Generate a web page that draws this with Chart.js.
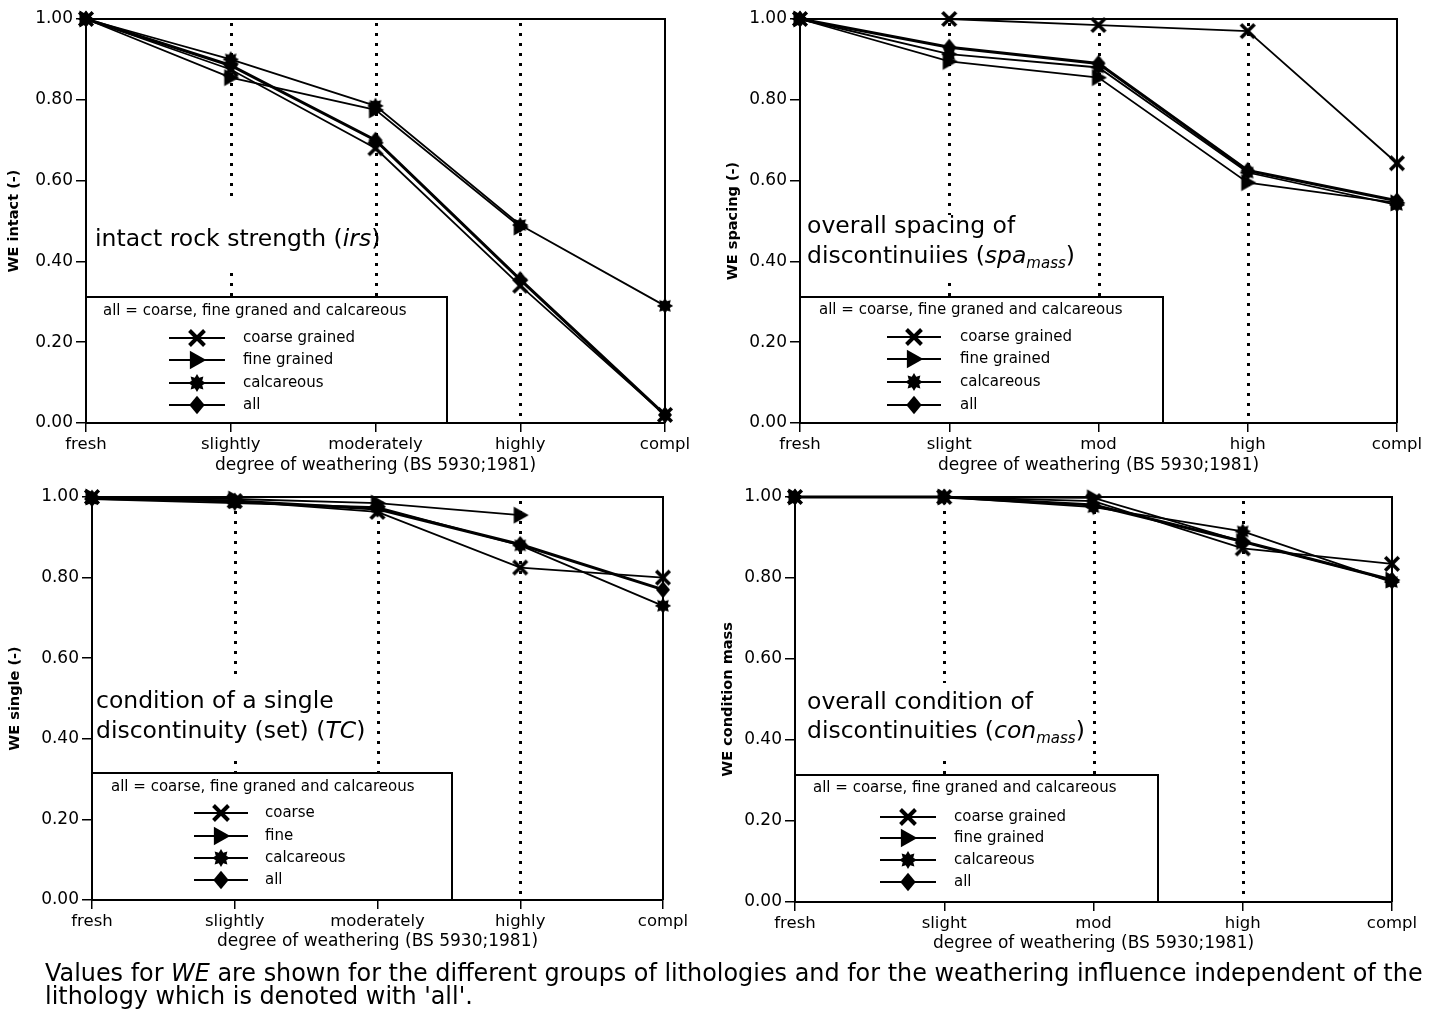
<!DOCTYPE html>
<html><head><meta charset="utf-8">
<script src="https://cdn.jsdelivr.net/npm/chart.js@4.4.1/dist/chart.umd.min.js"></script>
<style>
html,body{margin:0;padding:0;background:#fff;width:1435px;height:1018px;overflow:hidden}
canvas{position:absolute}
#cap{position:absolute;left:45px;top:962px;font-family:'DejaVu Sans';font-size:23.9px;line-height:23px;white-space:nowrap;color:#000}
</style></head><body>
<canvas id="c1" width="717" height="480" style="left:0;top:0;width:717px;height:480px"></canvas>
<canvas id="c2" width="718" height="480" style="left:717px;top:0;width:718px;height:480px"></canvas>
<canvas id="c3" width="717" height="480" style="left:0;top:480px;width:717px;height:480px"></canvas>
<canvas id="c4" width="718" height="480" style="left:717px;top:480px;width:718px;height:480px"></canvas>
<div id="cap">Values for <i>WE</i> are shown for the different groups of lithologies and for the weathering influence independent of the<br>lithology which is denoted with 'all'.</div>
<script>
// ---- data ----
const stagesLong = ['fresh', 'slightly', 'moderately', 'highly', 'compl'];
const stagesShort = ['fresh', 'slight', 'mod', 'high', 'compl'];
const yTickValues = [0, 0.2, 0.4, 0.6, 0.8, 1.0];

const irsCoarse = [1.0, 0.875, 0.68, 0.34, 0.02];
const irsFine   = [1.0, 0.855, 0.775, 0.485, null];
const irsCalc   = [1.0, 0.90, 0.785, 0.49, 0.29];
const irsAll    = [1.0, 0.885, 0.70, 0.355, 0.02];

const spaCoarse = [1.0, 1.0, 0.985, 0.97, 0.643];
const spaFine   = [1.0, 0.895, 0.855, 0.595, 0.545];
const spaCalc   = [1.0, 0.913, 0.88, 0.62, 0.54];
const spaAll    = [1.0, 0.93, 0.89, 0.625, 0.55];

const tcCoarse = [1.0, 0.99, 0.963, 0.825, 0.80];
const tcFine   = [1.0, 0.995, 0.985, 0.955, null];
const tcCalc   = [0.995, 0.985, 0.975, 0.88, 0.73];
const tcAll    = [0.997, 0.99, 0.97, 0.882, 0.77];

const conCoarse = [1.0, 1.0, 0.99, 0.873, 0.835];
const conFine   = [1.0, 1.0, 0.998, 0.89, 0.795];
const conCalc   = [1.0, 1.0, 0.975, 0.915, 0.79];
const conAll    = [1.0, 1.0, 0.98, 0.89, 0.795];

const yTitles = ['WE intact (-)', 'WE spacing (-)', 'WE single (-)', 'WE condition mass'];
const xTitle = 'degree of weathering (BS 5930;1981)';
const legendHeader = 'all = coarse, fine graned and calcareous';
const legendLabelsA = ['coarse grained', 'fine grained', 'calcareous', 'all'];
const legendLabelsB = ['coarse', 'fine', 'calcareous', 'all'];

// ---- drawing helpers ----
const FONT = "'DejaVu Sans'";
function drawMarker(ctx, type, cx, cy, s) {
  ctx.save();
  ctx.fillStyle = '#000'; ctx.strokeStyle = '#000'; ctx.setLineDash([]);
  ctx.beginPath();
  if (type === 'x') {
    const r = 6.8 * s;
    ctx.lineWidth = 3.6 * s;
    ctx.moveTo(cx - r, cy - r); ctx.lineTo(cx + r, cy + r);
    ctx.moveTo(cx + r, cy - r); ctx.lineTo(cx - r, cy + r);
    ctx.stroke();
  } else if (type === 'tri') {
    ctx.moveTo(cx - 6.5 * s, cy - 8.5 * s); ctx.lineTo(cx + 8.5 * s, cy); ctx.lineTo(cx - 6.5 * s, cy + 8.5 * s);
    ctx.closePath(); ctx.fill();
  } else if (type === 'star') {
    const n = 8, ro = 8.2 * s, ri = 5.2 * s;
    for (let i = 0; i < n * 2; i++) {
      const a = -Math.PI / 2 + i * Math.PI / n;
      const r = i % 2 ? ri : ro;
      const px = cx + r * Math.cos(a), py = cy + r * Math.sin(a);
      if (i === 0) ctx.moveTo(px, py); else ctx.lineTo(px, py);
    }
    ctx.closePath(); ctx.fill();
  } else if (type === 'dia') {
    ctx.moveTo(cx, cy - 8.5 * s); ctx.lineTo(cx + 7 * s, cy); ctx.lineTo(cx, cy + 8.5 * s); ctx.lineTo(cx - 7 * s, cy);
    ctx.closePath(); ctx.fill();
  }
  ctx.restore();
}
function markerCanvas(type) {
  const c = document.createElement('canvas');
  c.width = 24; c.height = 24;
  drawMarker(c.getContext('2d'), type, 12, 12, 1);
  return c;
}
const MK = { x: markerCanvas('x'), tri: markerCanvas('tri'), star: markerCanvas('star'), dia: markerCanvas('dia') };
const markerTypes = ['x', 'tri', 'star', 'dia'];

function drawSegments(ctx, segs, x, yc) {
  let cx = x;
  for (const sg of segs) {
    let size = 23.5, dy = 0;
    if (sg.sub) { size = 15; dy = 7; }
    ctx.font = (sg.i ? 'italic ' : '') + size + 'px ' + FONT;
    ctx.textBaseline = 'middle'; ctx.textAlign = 'left'; ctx.fillStyle = '#000';
    ctx.fillText(sg.t, cx, yc + dy);
    cx += ctx.measureText(sg.t).width;
  }
}

// ---- panel layouts ----
const panels = [
  { id: 'c1', labels: stagesLong, data: [irsCoarse, irsFine, irsCalc, irsAll], yTitle: yTitles[0], legend: legendLabelsA,
    left: 86, top: 19, right: 52, xh: 57, yTitleX: 14, xTitleY: 466,
    text: [[{t: 'intact rock strength ('}, {t: 'irs', i: 1}, {t: ')'}]], textX: 95, textY: [240],
    tbox: [88, 203, 370, 273],
    lbox: [86, 297, 447, 423], lhead: [103, 311], lline: [169, 225], ltext: 243, lrows: [338, 360, 383, 405] },
  { id: 'c2', labels: stagesShort, data: [spaCoarse, spaFine, spaCalc, spaAll], yTitle: yTitles[1], legend: legendLabelsA,
    left: 83, top: 19, right: 38, xh: 57, yTitleX: 16, xTitleY: 466,
    text: [[{t: 'overall spacing of'}], [{t: 'discontinuiies ('}, {t: 'spa', i: 1}, {t: 'mass', i: 1, sub: 1}, {t: ')'}]], textX: 90, textY: [227, 257],
    tbox: [85, 215, 373, 283],
    lbox: [83, 297, 446, 423], lhead: [102, 310], lline: [170, 224], ltext: 243, lrows: [337, 359, 382, 405] },
  { id: 'c3', labels: stagesLong, data: [tcCoarse, tcFine, tcCalc, tcAll], yTitle: yTitles[2], legend: legendLabelsB,
    left: 92, top: 17, right: 54, xh: 60, yTitleX: 15, xTitleY: 462,
    text: [[{t: 'condition of a single'}], [{t: 'discontinuity (set) ('}, {t: 'TC', i: 1}, {t: ')'}]], textX: 96, textY: [222, 252],
    tbox: [94, 198, 372, 277],
    lbox: [92, 293, 452, 420], lhead: [111, 307], lline: [194, 248], ltext: 265, lrows: [333, 356, 378, 400] },
  { id: 'c4', labels: stagesShort, data: [conCoarse, conFine, conCalc, conAll], yTitle: yTitles[3], legend: legendLabelsA,
    left: 78, top: 17, right: 43, xh: 58, yTitleX: 11, xTitleY: 464,
    text: [[{t: 'overall condition of'}], [{t: 'discontinuities ('}, {t: 'con', i: 1}, {t: 'mass', i: 1, sub: 1}, {t: ')'}]], textX: 90, textY: [223, 252],
    tbox: [80, 203, 372, 280],
    lbox: [78, 295, 441, 422], lhead: [96, 308], lline: [163, 219], ltext: 237, lrows: [337, 358, 380, 402] }
];

function panelPlugin(p) {
  return {
    id: 'deco_' + p.id,
    beforeDatasetsDraw(chart) {
      const { ctx, chartArea: a, scales: { x } } = chart;
      ctx.save();
      // dotted verticals
      ctx.strokeStyle = '#000'; ctx.lineWidth = 3; ctx.setLineDash([3, 7]);
      for (let i = 1; i <= 3; i++) {
        const px = Math.round(x.getPixelForValue(i)) + 0.5;
        ctx.beginPath(); ctx.moveTo(px, a.top + 4); ctx.lineTo(px, a.bottom - 2); ctx.stroke();
      }
      ctx.setLineDash([]);
      // annotation text
      ctx.fillStyle = '#fff';
      ctx.fillRect(p.tbox[0], p.tbox[1], p.tbox[2] - p.tbox[0], p.tbox[3] - p.tbox[1]);
      p.text.forEach((segs, k) => drawSegments(ctx, segs, p.textX, p.textY[k]));
      // legend box
      const [bx0, by0, bx1, by1] = p.lbox;
      ctx.fillStyle = '#fff';
      ctx.fillRect(bx0, by0, bx1 - bx0, by1 - by0);
      ctx.strokeStyle = '#000'; ctx.lineWidth = 2;
      ctx.strokeRect(bx0, by0, bx1 - bx0, by1 - by0);
      ctx.fillStyle = '#000'; ctx.font = '15px ' + FONT; ctx.textBaseline = 'middle'; ctx.textAlign = 'left';
      ctx.fillText(legendHeader, p.lhead[0], p.lhead[1]);
      p.legend.forEach((lab, k) => {
        const ry = p.lrows[k];
        ctx.lineWidth = 1.8; ctx.beginPath(); ctx.moveTo(p.lline[0], ry); ctx.lineTo(p.lline[1], ry); ctx.stroke();
        drawMarker(ctx, markerTypes[k], (p.lline[0] + p.lline[1]) / 2, ry, 1.1);
        ctx.fillStyle = '#000'; ctx.font = '15px ' + FONT; ctx.textBaseline = 'middle';
        ctx.fillText(lab, p.ltext, ry);
      });
      ctx.restore();
    },
    afterDraw(chart) {
      const { ctx, chartArea: a } = chart;
      ctx.save();
      ctx.strokeStyle = '#000'; ctx.lineWidth = 2;
      ctx.beginPath(); ctx.moveTo(a.left, a.top); ctx.lineTo(a.right, a.top); ctx.lineTo(a.right, a.bottom); ctx.stroke();
      // y title (rotated, bold)
      ctx.fillStyle = '#000';
      ctx.font = 'bold 14.5px ' + FONT; ctx.textAlign = 'center'; ctx.textBaseline = 'middle';
      ctx.translate(p.yTitleX, (a.top + a.bottom) / 2); ctx.rotate(-Math.PI / 2);
      ctx.fillText(p.yTitle, 0, 0);
      ctx.setTransform(1, 0, 0, 1, 0, 0);
      // x title
      ctx.font = '17px ' + FONT; ctx.textAlign = 'center'; ctx.textBaseline = 'middle';
      ctx.fillText(xTitle, (a.left + a.right) / 2, p.xTitleY);
      ctx.restore();
    }
  };
}

panels.forEach(p => {
  const canvas = document.getElementById(p.id);
  const names = ['coarse', 'fine', 'calcareous', 'all'];
  const datasets = p.data.map((arr, k) => ({
    label: names[k], data: arr,
    borderColor: '#000', backgroundColor: '#000',
    borderWidth: k === 3 ? 3 : 1.8,
    pointStyle: MK[markerTypes[k]], pointRadius: 8, pointHoverRadius: 8,
    spanGaps: false, clip: false, tension: 0
  }));
  new Chart(canvas, {
    type: 'line',
    data: { labels: p.labels, datasets },
    options: {
      responsive: false, animation: false, devicePixelRatio: 1,
      events: [],
      layout: { padding: { top: p.top, right: p.right, left: 0, bottom: 0 } },
      plugins: { legend: { display: false }, tooltip: { enabled: false } },
      scales: {
        x: {
          type: 'category', offset: false,
          afterFit(s) { s.height = p.xh; },
          grid: { display: true, drawOnChartArea: false, drawTicks: true, tickLength: 9, color: '#000', lineWidth: 1.5 },
          border: { display: true, color: '#000', width: 2 },
          ticks: { color: '#000', font: { family: 'DejaVu Sans', size: 16.5 }, padding: 3, maxRotation: 0, autoSkip: false }
        },
        y: {
          type: 'linear', min: 0, max: 1,
          afterFit(s) { s.width = p.left; },
          afterBuildTicks(s) { s.ticks = yTickValues.map(v => ({ value: v })); },
          grid: { display: true, drawOnChartArea: false, drawTicks: true, tickLength: 10, color: '#000', lineWidth: 1.5 },
          border: { display: true, color: '#000', width: 2 },
          ticks: { color: '#000', font: { family: 'DejaVu Sans', size: 17 }, padding: 3, callback: v => Number(v).toFixed(2) }
        }
      }
    },
    plugins: [panelPlugin(p)]
  });
});
</script>
</body></html>
